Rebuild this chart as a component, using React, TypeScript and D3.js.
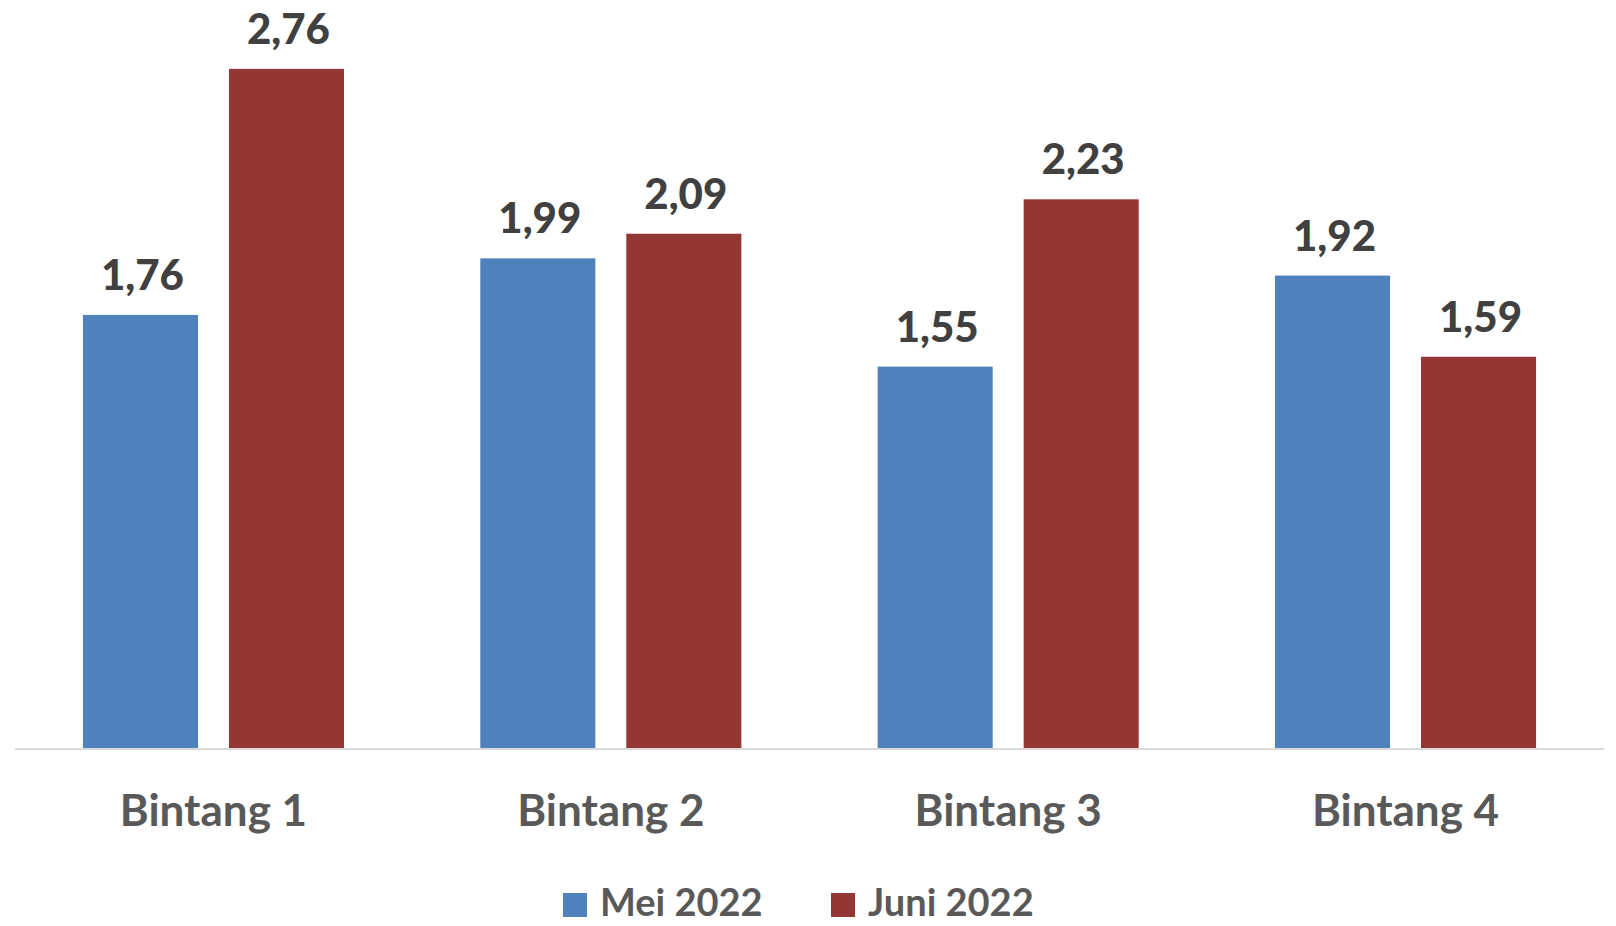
import React from "react";
import * as d3 from "d3";

const categories = ["Bintang 1", "Bintang 2", "Bintang 3", "Bintang 4"];
const seriesNames = ["Mei 2022", "Juni 2022"];
const mei2022 = [1.76, 1.99, 1.55, 1.92];
const juni2022 = [2.76, 2.09, 2.23, 1.59];
const seriesColors = ["#4F81BD", "#943634"];

const W = 1616;
const H = 926;
const FONT = "Lato, 'Open Sans', sans-serif";

export default function App() {
  const x0 = d3.scaleBand<string>().domain(categories).range([15, 1604]).paddingInner(0.343).paddingOuter(0.171);
  const x1 = d3.scaleBand<string>().domain(seriesNames).range([0, x0.bandwidth()]).paddingInner(0.212);
  const y = d3.scaleLinear().domain([0, 3.04]).range([748, 0]);
  const data = [mei2022, juni2022];
  const fmt = (v: number) => v.toFixed(2).replace(".", ",");

  return (
    <svg width={W} height={H} style={{ position: "absolute", left: 0, top: 0, background: "#fff" }}>
      {categories.map((c, i) => (
        <g key={c} transform={`translate(${x0(c)},0)`}>
          {seriesNames.map((s, k) => {
            const v = data[k][i];
            const bx = x1(s)!;
            return (
              <g key={s}>
                <rect x={bx} y={y(v)} width={x1.bandwidth()} height={y(0) - y(v)} fill={seriesColors[k]} />
                <text x={bx + x1.bandwidth() / 2 + 2} y={y(v) - 25} textAnchor="middle" fontFamily={FONT} fontWeight={900} fontSize={42} fill="#404040">
                  {fmt(v)}
                </text>
              </g>
            );
          })}
          <text x={x0.bandwidth() / 2} y={826} textAnchor="middle" fontFamily={FONT} fontWeight={700} fontSize={44} fill="#595959">
            {c}
          </text>
        </g>
      ))}
      <line x1={15} x2={1604} y1={y(0) + 1} y2={y(0) + 1} stroke="#D9D9D9" strokeWidth={2} />
      {seriesNames.map((s, k) => {
        const lx = [563, 831][k];
        return (
          <g key={s}>
            <rect x={lx} y={893} width={24} height={24} fill={seriesColors[k]} />
            <text x={lx + 37} y={916} fontFamily={FONT} fontWeight={700} fontSize={38} fill="#595959">
              {s}
            </text>
          </g>
        );
      })}
    </svg>
  );
}
